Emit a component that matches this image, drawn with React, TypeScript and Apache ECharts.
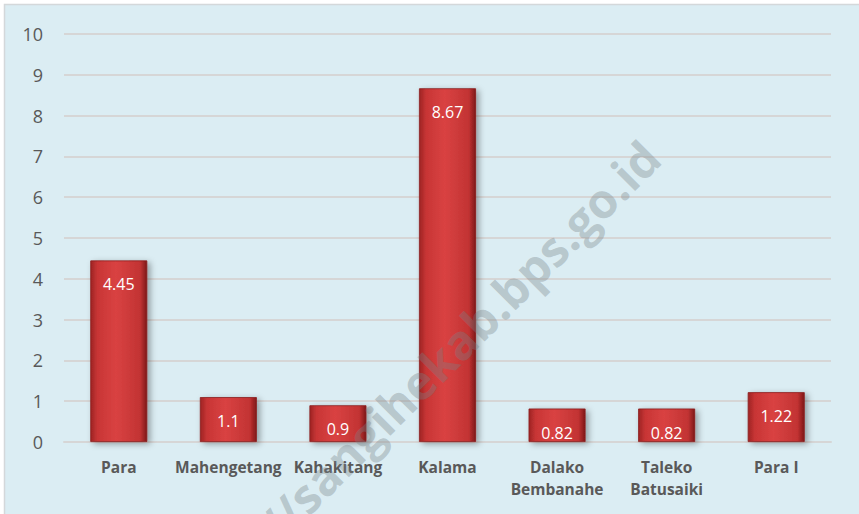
import React, { useEffect, useRef } from "react";
import * as echarts from "echarts";

const categories = ["Para", "Mahengetang", "Kahakitang", "Kalama", "Dalako\nBembanahe", "Taleko\nBatusaiki", "Para I"];
const values = [4.45, 1.1, 0.9, 8.67, 0.82, 0.82, 1.22];
const watermark = "http://sangihekab.bps.go.id";

export default function App() {
  const ref = useRef<HTMLDivElement>(null);
  useEffect(() => {
    const chart = echarts.init(ref.current!, null, { renderer: "svg" });
    chart.setOption({
      animation: false,
      backgroundColor: "#ffffff",
      textStyle: { fontFamily: "Open Sans" },
      graphic: [
        {
          type: "rect",
          z: -10,
          silent: true,
          shape: { x: 4.5, y: 4.5, width: 900, height: 600 },
          style: { fill: "#dbedf3", stroke: "#d4d8da", lineWidth: 1.5 },
        },
        {
          type: "text",
          z: 100,
          silent: true,
          x: 418,
          y: 382,
          rotation: (45 * Math.PI) / 180,
          style: {
            text: watermark,
            fontFamily: "Open Sans",
            fontWeight: "bold",
            fontSize: 48,
            fill: "rgba(120,130,135,0.36)",
            textAlign: "center",
            textVerticalAlign: "middle",
          },
        },
      ],
      grid: { left: 64, right: 28, top: 34, bottom: 72, containLabel: false },
      xAxis: {
        type: "category",
        data: categories,
        axisLine: { show: true, lineStyle: { color: "#d6d6d6", width: 2 } },
        axisTick: { show: false },
        axisLabel: {
          color: "#595959",
          fontWeight: "bold",
          fontSize: 15.5,
          lineHeight: 22,
          margin: 14,
          interval: 0,
          fontFamily: "Open Sans",
        },
      },
      yAxis: {
        type: "value",
        min: 0,
        max: 10,
        interval: 1,
        axisLine: { show: false },
        axisTick: { show: false },
        splitLine: { lineStyle: { color: "#d6d6d6", width: 2 } },
        axisLabel: { color: "#595959", fontSize: 18, margin: 21, fontFamily: "Open Sans" },
      },
      series: [
        {
          type: "bar",
          data: values,
          barWidth: 57,
          itemStyle: {
            color: new echarts.graphic.LinearGradient(0, 0, 1, 0, [
              { offset: 0, color: "#9e2424" },
              { offset: 0.12, color: "#c83535" },
              { offset: 0.45, color: "#d94242" },
              { offset: 0.88, color: "#c23333" },
              { offset: 1, color: "#7e1818" },
            ]),
            borderColor: "#8a1d1d",
            borderWidth: 0.8,
            shadowColor: "rgba(0,0,0,0.35)",
            shadowBlur: 6,
            shadowOffsetX: 3,
            shadowOffsetY: 2,
          },
          label: {
            show: true,
            position: "insideTop",
            distance: 16,
            color: "#ffffff",
            fontSize: 16,
            fontFamily: "Open Sans",
          },
        },
      ],
    });
    return () => chart.dispose();
  }, []);
  return <div ref={ref} style={{ position: "fixed", left: 0, top: 0, width: 859, height: 514 }} />;
}
